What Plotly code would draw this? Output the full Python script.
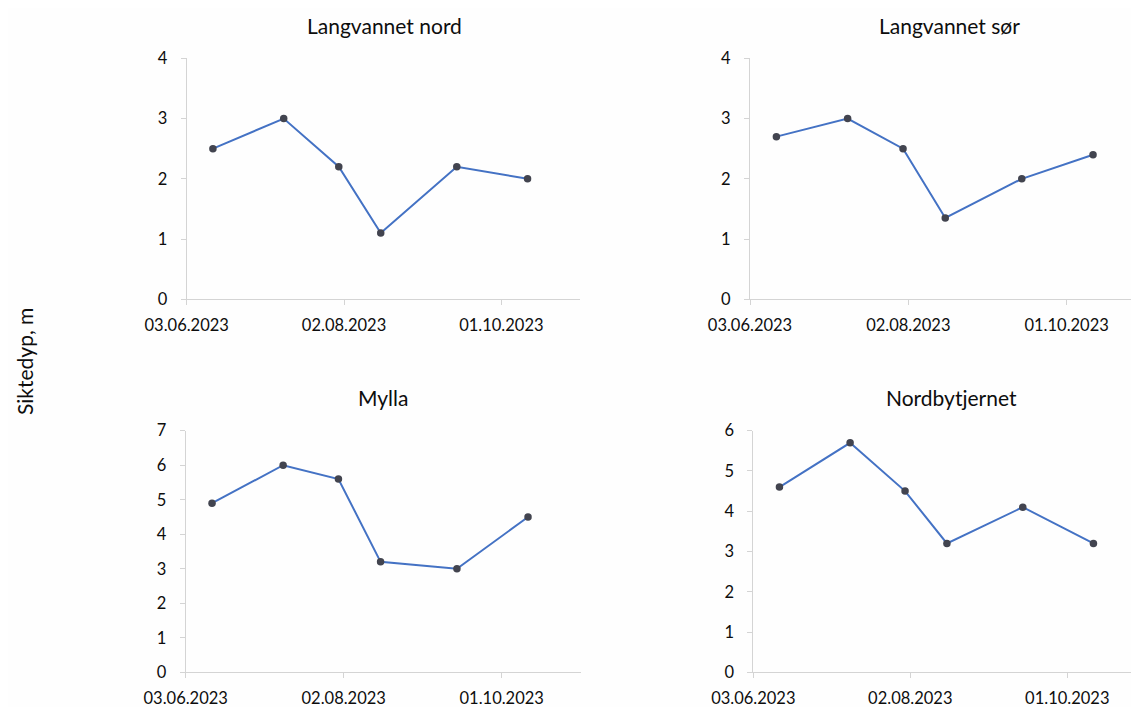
import plotly.graph_objects as go

# page body has an 8px margin, so the figure is laid out in page pixels minus 8
OFF = 8
W, H = 1139 - OFF, 707 - OFF

dates = ["2023-06-13", "2023-07-10", "2023-07-31", "2023-08-16", "2023-09-14", "2023-10-11"]
titles = ["Langvannet nord", "Langvannet sør", "Mylla", "Nordbytjernet"]
langvannet_nord = [2.5, 3.0, 2.2, 1.1, 2.2, 2.0]
langvannet_sor = [2.7, 3.0, 2.5, 1.35, 2.0, 2.4]
mylla = [4.9, 6.0, 5.6, 3.2, 3.0, 4.5]
nordbytjernet = [4.6, 5.7, 4.5, 3.2, 4.1, 3.2]
series = [langvannet_nord, langvannet_sor, mylla, nordbytjernet]
y_max = [4, 4, 7, 6]
x_ticks = ["2023-06-03", "2023-08-02", "2023-10-01"]
y_title = "Siktedyp, m"

FONT = "Lato"
LINE = "#4472C4"
MARK = "#42444f"
AX = "#d4d4d4"
TXT = "#0d0d0d"

# page-pixel boxes: (x0, x1, ytop, ybottom)
boxes = [
    (186.7, 580.0, 58.3, 299.3),
    (750.0, 1139.0, 58.3, 299.3),
    (185.7, 580.7, 430.7, 672.3),
    (753.3, 1139.0, 430.7, 672.3),
]
x_end = ["2023-10-31", "2023-10-28 10:00", "2023-10-31", "2023-10-28 10:00"]
title_pos = [(384, 25.5), (949, 25.5), (383, 397), (951.5, 397)]


def px(x):
    return (x - OFF) / W


def py(y):
    return (H - (y - OFF)) / H


fig = go.Figure()
annotations = []
for i, (vals, box) in enumerate(zip(series, boxes)):
    n = "" if i == 0 else str(i + 1)
    fig.add_trace(go.Scatter(
        x=dates, y=vals, mode="lines+markers",
        line=dict(color=LINE, width=2),
        marker=dict(color=MARK, size=7.5),
        xaxis="x" + n, yaxis="y" + n, showlegend=False,
    ))
    x0, x1, yt, yb = box
    fig.layout["xaxis" + n] = dict(
        domain=[px(x0), min(px(x1), 1.0)], anchor="y" + n, type="date",
        range=["2023-06-03", x_end[i]], tickvals=x_ticks, tickformat="%d.%m.%Y",
        showline=True, linecolor=AX, linewidth=1, ticks="outside", ticklen=5,
        tickcolor=AX, showgrid=False, zeroline=False, automargin=False,
        tickfont=dict(family=FONT, size=16.5, color=TXT), ticklabelstandoff=6,
    )
    fig.layout["yaxis" + n] = dict(
        domain=[py(yb), py(yt)], anchor="x" + n,
        range=[0, y_max[i]], dtick=1, tick0=0,
        showline=True, linecolor=AX, linewidth=1, ticks="outside", ticklen=5,
        tickcolor=AX, showgrid=False, zeroline=False, automargin=False,
        tickfont=dict(family=FONT, size=16.5, color=TXT), ticklabelstandoff=10,
    )
    tx, ty = title_pos[i]
    annotations.append(dict(
        text=titles[i], x=px(tx), y=py(ty), xref="paper", yref="paper",
        xanchor="center", yanchor="middle", showarrow=False,
        font=dict(family=FONT, size=21, color=TXT),
    ))

annotations.append(dict(
    text=y_title, x=px(24), y=py(362), xref="paper", yref="paper",
    xanchor="center", yanchor="middle", showarrow=False, textangle=-90,
    font=dict(family=FONT, size=21, color=TXT),
))

fig.update_layout(
    width=W, height=H, margin=dict(l=0, r=0, t=0, b=0, autoexpand=False),
    paper_bgcolor="#fefefe", plot_bgcolor="#fefefe",
    annotations=annotations,
)

fig.write_html("out.html")
